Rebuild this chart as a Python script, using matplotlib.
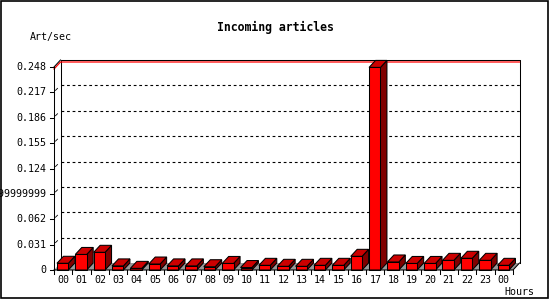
import matplotlib
matplotlib.use('Agg')
import matplotlib.pyplot as plt
from matplotlib.patches import Polygon, Rectangle

hours = ['00', '01', '02', '03', '04', '05', '06', '07', '08', '09', '10', '11',
         '12', '13', '14', '15', '16', '17', '18', '19', '20', '21', '22', '23', '00']
rate = [0.0082, 0.019, 0.0216, 0.005, 0.002, 0.0073, 0.005, 0.005, 0.004, 0.008,
        0.003, 0.0057, 0.0045, 0.0045, 0.0057, 0.0057, 0.0167, 0.2475, 0.0098,
        0.008, 0.008, 0.0118, 0.0143, 0.0118, 0.0057]
ytick_vals = [0, 0.031, 0.062, 0.093, 0.124, 0.155, 0.186, 0.217, 0.248]
ytick_text = ['0', '0.031', '0.062', '0.09299999999999999', '0.124', '0.155',
              '0.186', '0.217', '0.248']

W, H = 550, 300
fig = plt.figure(figsize=(W / 100, H / 100), dpi=100)
fig.patch.set_facecolor('white')

# front plot box in pixels
left, right, top, bottom = 54, 513, 67, 270
ax = fig.add_axes([left / W, 1 - bottom / H, (right - left) / W, (bottom - top) / H])
n = len(hours)
ymax = ytick_vals[-1]
ax.set_xlim(0, n)
ax.set_ylim(0, ymax)
ax.axis('off')

sx = (right - left) / n
sy = (bottom - top) / ymax
dx = 6.5 / sx
dy = 7 / sy
lw = 0.75
mono = 'DejaVu Sans Mono'

# floor
ax.add_patch(Polygon([(0, 0), (n, 0), (n + dx, dy), (dx, dy)], closed=True,
                     fc='#999999', ec='none', clip_on=False, zorder=1))

# grid on back wall
for v in ytick_vals[1:-1]:
    ax.plot([dx, n + dx], [v + dy, v + dy], color='black', lw=0.8,
            dashes=(2.5, 2.5), clip_on=False, zorder=1)

# back wall frame
ax.plot([dx, dx, n + dx, n + dx], [dy, ymax + dy, ymax + dy, dy],
        color='black', lw=lw, clip_on=False, zorder=2)
red_off = 2 / sy
ax.plot([0, dx, n + dx], [ymax - red_off, ymax + dy - red_off, ymax + dy - red_off],
        color='red', lw=0.9, clip_on=False, zorder=2)
ax.plot([0, dx], [ymax, ymax + dy], color='black', lw=lw, clip_on=False, zorder=2)

# bars
bw = 0.62
for i, v in enumerate(rate):
    x0 = i + 0.16
    x1 = x0 + bw
    ax.add_patch(Polygon([(x1, 0), (x1 + dx, dy), (x1 + dx, v + dy), (x1, v)],
                         closed=True, fc='#800000', ec='black', lw=lw,
                         clip_on=False, zorder=3))
    ax.add_patch(Polygon([(x0, v), (x1, v), (x1 + dx, v + dy), (x0 + dx, v + dy)],
                         closed=True, fc='#cc0000', ec='black', lw=lw,
                         clip_on=False, zorder=3))
    ax.add_patch(Rectangle((x0, 0), bw, v, fc='red', ec='black', lw=lw,
                           clip_on=False, zorder=3))

# front axes
ax.plot([0, 0], [0, ymax], color='black', lw=lw, clip_on=False, zorder=4)
ax.plot([0, n, n + dx], [0, 0, dy], color='black', lw=lw, clip_on=False, zorder=4)

# y ticks and labels
for v, t in zip(ytick_vals, ytick_text):
    ax.plot([-4 / sx, 0], [v, v], color='black', lw=lw, clip_on=False, zorder=4)
    if 0 < v < ymax:
        ax.plot([1.5 / sx, 3.5 / sx], [v + 2 / sy, v + 4 / sy], color='black',
                lw=0.6, clip_on=False, zorder=4)
    ax.text(-8 / sx, v, t, ha='right', va='center', fontsize=7.2,
            family=mono, clip_on=False)

# x ticks and labels
for i in range(n + 1):
    ax.plot([i, i], [0, -4 / sy], color='black', lw=lw, clip_on=False, zorder=4)
for i, h in enumerate(hours):
    ax.text(i + 0.5, -10 / sy, h, ha='center', va='center', fontsize=7.2,
            family=mono)

fig.text(275 / W, 1 - 27 / H, 'Incoming articles', ha='center', va='center',
         fontsize=8.3, fontweight='bold', family=mono)
fig.text(50.5 / W, 1 - 37 / H, 'Art/sec', ha='center', va='center',
         fontsize=7.2, family=mono)
fig.text(519 / W, 1 - 292 / H, 'Hours', ha='center', va='center',
         fontsize=7.2, family=mono)

fig.add_artist(Rectangle((0.8 / W, 2 / H), 547 / W, 297.5 / H,
                         transform=fig.transFigure, fill=False, ec='black', lw=1.2))

fig.savefig('out.png', dpi=100)
